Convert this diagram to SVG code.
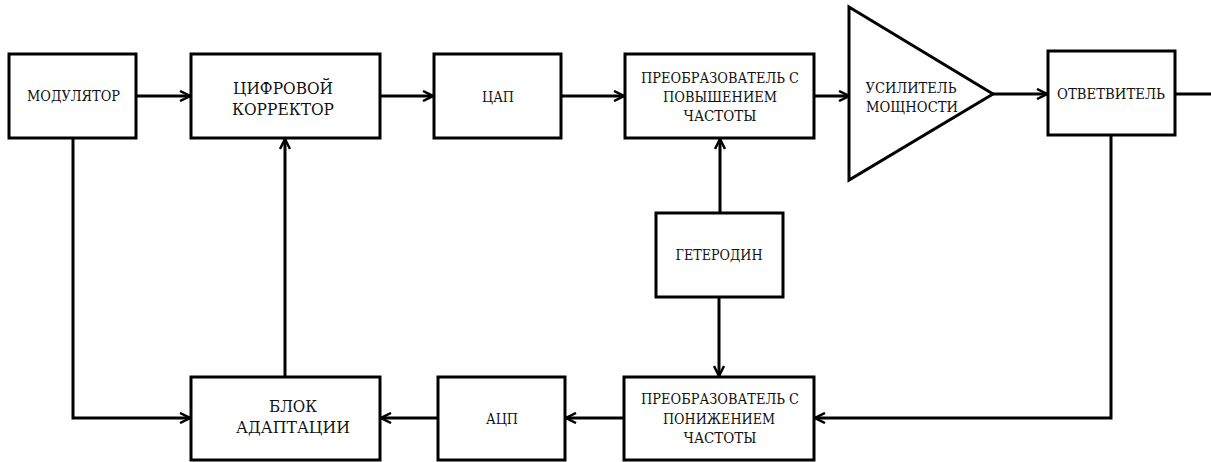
<svg xmlns="http://www.w3.org/2000/svg" width="1211" height="462" viewBox="0 0 1211 462">
<style>
.box{fill:#fff;stroke:#000;stroke-width:3}
.ln{fill:none;stroke:#000;stroke-width:3}
.t{font-family:'DejaVu Serif Condensed','DejaVu Serif','Liberation Serif',serif;font-size:14px;fill:#111;text-anchor:middle;dominant-baseline:central}
.tl{font-size:17px}
</style>
<defs>
<marker id="ah" viewBox="0 0 12 12" refX="11" refY="6" markerWidth="12" markerHeight="12" markerUnits="userSpaceOnUse" orient="auto">
<path d="M1,1 L11,6 L1,11" fill="none" stroke="#000" stroke-width="2.5"/>
</marker>
</defs>
<rect width="1211" height="462" fill="#fff"/>
<g id="connectors">
<line class="ln" x1="136" y1="96" x2="190" y2="96" marker-end="url(#ah)"/>
<line class="ln" x1="380" y1="96" x2="433" y2="96" marker-end="url(#ah)"/>
<line class="ln" x1="561" y1="96" x2="624" y2="96" marker-end="url(#ah)"/>
<line class="ln" x1="814" y1="96" x2="849" y2="96" marker-end="url(#ah)"/>
<line class="ln" x1="993" y1="94" x2="1047" y2="94" marker-end="url(#ah)"/>
<line class="ln" x1="1175" y1="94" x2="1211" y2="94"/>
<line class="ln" x1="720" y1="213" x2="720" y2="139" marker-end="url(#ah)"/>
<line class="ln" x1="719" y1="297" x2="719" y2="376" marker-end="url(#ah)"/>
<polyline class="ln" points="1111,135 1111,418 815,418" marker-end="url(#ah)"/>
<line class="ln" x1="624" y1="418" x2="566" y2="418" marker-end="url(#ah)"/>
<line class="ln" x1="438" y1="418" x2="381" y2="418" marker-end="url(#ah)"/>
<polyline class="ln" points="73,138 73,418 190,418" marker-end="url(#ah)"/>
<line class="ln" x1="285" y1="377" x2="285" y2="139" marker-end="url(#ah)"/>
</g>
<g id="modulator"><rect class="box" x="9" y="54" width="127" height="84"/><text class="t" x="73.5" y="96" textLength="93" lengthAdjust="spacingAndGlyphs">МОДУЛЯТОР</text></g>
<g id="corrector"><rect class="box" x="191" y="54" width="189" height="84"/><text class="t tl" x="283" y="88" textLength="100" lengthAdjust="spacingAndGlyphs">ЦИФРОВОЙ</text><text class="t tl" x="283" y="109" textLength="102" lengthAdjust="spacingAndGlyphs">КОРРЕКТОР</text></g>
<g id="dac"><rect class="box" x="434" y="54" width="127" height="84"/><text class="t" x="498" y="97" textLength="32" lengthAdjust="spacingAndGlyphs">ЦАП</text></g>
<g id="upconv"><rect class="box" x="625" y="54" width="189" height="84"/><text class="t" x="720" y="78" textLength="158" lengthAdjust="spacingAndGlyphs">ПРЕОБРАЗОВАТЕЛЬ С</text><text class="t" x="720" y="97" textLength="114" lengthAdjust="spacingAndGlyphs">ПОВЫШЕНИЕМ</text><text class="t" x="720" y="116" textLength="73" lengthAdjust="spacingAndGlyphs">ЧАСТОТЫ</text></g>
<g id="amp"><polygon class="box" points="849,7 993,94 849,180"/><text class="t" x="911" y="88" textLength="91" lengthAdjust="spacingAndGlyphs">УСИЛИТЕЛЬ</text><text class="t" x="912" y="107" textLength="92" lengthAdjust="spacingAndGlyphs">МОЩНОСТИ</text></g>
<g id="coupler"><rect class="box" x="1048" y="51" width="127" height="84"/><text class="t" x="1111" y="94" textLength="108" lengthAdjust="spacingAndGlyphs">ОТВЕТВИТЕЛЬ</text></g>
<g id="lo"><rect class="box" x="656" y="213" width="127" height="84"/><text class="t" x="719" y="255" textLength="87" lengthAdjust="spacingAndGlyphs">ГЕТЕРОДИН</text></g>
<g id="downconv"><rect class="box" x="624" y="377" width="190" height="83"/><text class="t" x="720" y="399" textLength="158" lengthAdjust="spacingAndGlyphs">ПРЕОБРАЗОВАТЕЛЬ С</text><text class="t" x="719" y="419" textLength="112" lengthAdjust="spacingAndGlyphs">ПОНИЖЕНИЕМ</text><text class="t" x="720" y="438" textLength="73" lengthAdjust="spacingAndGlyphs">ЧАСТОТЫ</text></g>
<g id="adc"><rect class="box" x="438" y="377" width="127" height="83"/><text class="t" x="502" y="419" textLength="32" lengthAdjust="spacingAndGlyphs">АЦП</text></g>
<g id="adapt"><rect class="box" x="191" y="377" width="189" height="83"/><text class="t tl" x="293" y="406" textLength="48" lengthAdjust="spacingAndGlyphs">БЛОК</text><text class="t tl" x="293" y="427" textLength="114" lengthAdjust="spacingAndGlyphs">АДАПТАЦИИ</text></g>
</svg>
